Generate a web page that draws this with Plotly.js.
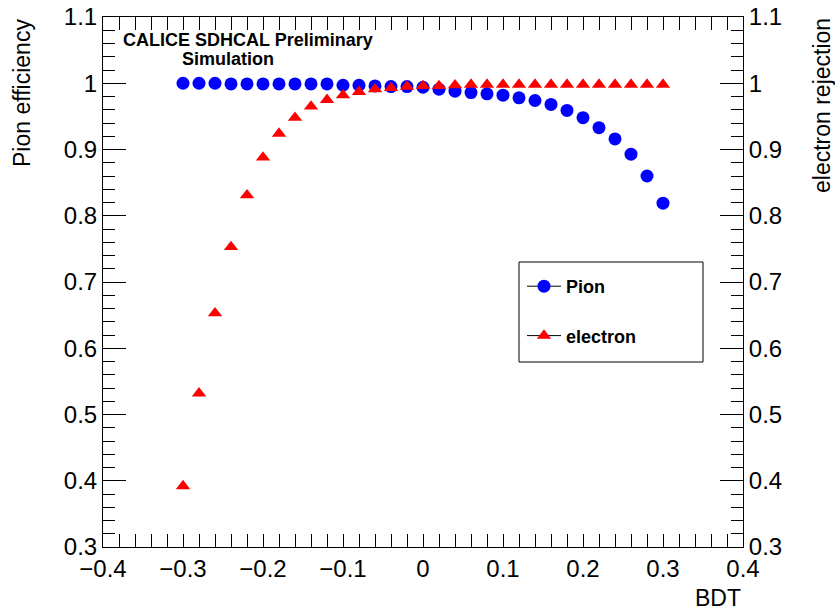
<!DOCTYPE html>
<html>
<head>
<meta charset="utf-8">
<script src="https://cdn.plot.ly/plotly-3.0.1.min.js"></script>
<style>
  html, body { margin: 0; padding: 0; background: #fff; }
  #plot { width: 835px; height: 610px; }
</style>
</head>
<body>
<div id="plot"></div>
<script>
// BDT cut values
const bdtCut = [-0.30, -0.28, -0.26, -0.24, -0.22, -0.20, -0.18, -0.16, -0.14, -0.12,
                -0.10, -0.08, -0.06, -0.04, -0.02, 0.00, 0.02, 0.04, 0.06, 0.08,
                0.10, 0.12, 0.14, 0.16, 0.18, 0.20, 0.22, 0.24, 0.26, 0.28, 0.30];

// Pion selection efficiency at each cut
const pionEfficiency = [1.000, 1.000, 1.000, 0.999, 0.999, 0.999, 0.999, 0.999, 0.999, 0.999,
                        0.997, 0.997, 0.996, 0.995, 0.995, 0.994, 0.991, 0.988, 0.986, 0.984,
                        0.982, 0.978, 0.974, 0.968, 0.959, 0.948, 0.933, 0.916, 0.893, 0.860, 0.819];

// Electron rejection at each cut
const electronRejection = [0.392, 0.532, 0.653, 0.753, 0.831, 0.888, 0.924, 0.948, 0.965, 0.975,
                           0.982, 0.987, 0.991, 0.993, 0.995, 0.996, 0.996, 0.997, 0.998, 0.998,
                           0.998, 0.998, 0.998, 0.998, 0.998, 0.998, 0.998, 0.998, 0.998, 0.998, 0.998];

const seriesNames = ["Pion", "electron"];
const axisRange = [0.3, 1.1];
const bdtRange = [-0.4, 0.4];

const FONT = "Liberation Sans, Arial, Helvetica, sans-serif";
const BLUE = "#0000ff";
const RED = "#ff0000";

const traces = [
  {
    x: bdtCut, y: pionEfficiency, type: "scatter", mode: "markers",
    marker: { symbol: "circle", size: 13, color: BLUE },
    showlegend: false, yaxis: "y"
  },
  {
    x: bdtCut, y: electronRejection, type: "scatter", mode: "markers",
    marker: { symbol: "triangle-up", size: 12.5, color: RED },
    showlegend: false, yaxis: "y2"
  },
  // legend entries (line + marker style)
  {
    x: [null], y: [null], type: "scatter", mode: "lines+markers", name: seriesNames[0],
    line: { color: "#000", width: 1 }, marker: { symbol: "circle", size: 13, color: BLUE },
    legendgroup: "a", yaxis: "y"
  },
  {
    x: [null], y: [null], type: "scatter", mode: "lines+markers", name: seriesNames[1],
    line: { color: "#000", width: 1 }, marker: { symbol: "triangle-up", size: 12.5, color: RED },
    legendgroup: "b", yaxis: "y2"
  }
];

function yAxis(side) {
  return {
    range: axisRange, tickmode: "linear", tick0: 0.3, dtick: 0.1,
    ticks: "inside", ticklen: 23, tickwidth: 1, tickcolor: "#000",
    minor: { dtick: 0.02, ticks: "inside", ticklen: 12, tickwidth: 1, tickcolor: "#000", showgrid: false },
    showline: true, linecolor: "#000", linewidth: 1,
    showgrid: false, zeroline: false, side: side, fixedrange: true,
    tickfont: { family: FONT, size: 24, color: "#000" }
  };
}

const y2 = yAxis("right");
y2.overlaying = "y";

const layout = {
  width: 835, height: 610,
  margin: { l: 103, r: 92, t: 17, b: 63, pad: 0 },
  paper_bgcolor: "#fff", plot_bgcolor: "#fff",
  font: { family: FONT, color: "#000" },
  xaxis: {
    range: bdtRange, tickmode: "linear", tick0: -0.4, dtick: 0.1,
    ticks: "inside", ticklen: 13, tickwidth: 1, tickcolor: "#000",
    minor: { dtick: 0.02, ticks: "inside", ticklen: 7, tickwidth: 1, tickcolor: "#000", showgrid: false },
    showline: true, linecolor: "#000", linewidth: 1, mirror: "allticks",
    showgrid: false, zeroline: false, fixedrange: true,
    tickfont: { family: FONT, size: 24, color: "#000" }
  },
  yaxis: yAxis("left"),
  yaxis2: y2,
  showlegend: true,
  legend: {
    x: (522 - 103) / 640, y: (547 - 268) / 530, xanchor: "left", yanchor: "top",
    bgcolor: "rgba(0,0,0,0)", borderwidth: 0, itemwidth: 34,
    traceorder: "grouped", tracegroupgap: 23,
    font: { family: FONT, size: 18, color: "#000", weight: "bold" }
  },
  shapes: [
    {
      type: "rect", xref: "paper", yref: "paper",
      x0: (519 - 103) / 640, x1: (703 - 103) / 640,
      y0: (547 - 362) / 530, y1: (547 - 262) / 530,
      line: { color: "#000", width: 1 }, fillcolor: "rgba(0,0,0,0)"
    }
  ],
  annotations: [
    {
      text: "<b>CALICE SDHCAL Preliminary</b>", xref: "paper", yref: "paper",
      x: (121 - 103) / 640, y: (547 - 40) / 530, xanchor: "left", yanchor: "middle",
      showarrow: false, font: { family: FONT, size: 18, color: "#000" }
    },
    {
      text: "<b>Simulation</b>", xref: "paper", yref: "paper",
      x: (180 - 103) / 640, y: (547 - 58.5) / 530, xanchor: "left", yanchor: "middle",
      showarrow: false, font: { family: FONT, size: 18, color: "#000" }
    },
    {
      text: "BDT", xref: "paper", yref: "paper",
      x: 1.0, y: (547 - 598) / 530, xanchor: "right", yanchor: "middle",
      showarrow: false, font: { family: FONT, size: 23, color: "#000" }
    },
    {
      text: "Pion efficiency", xref: "paper", yref: "paper", textangle: -90,
      x: (22 - 103) / 640, y: (547 - 93) / 530, xanchor: "center", yanchor: "middle",
      showarrow: false, font: { family: FONT, size: 23, color: "#000" }
    },
    {
      text: "electron rejection", xref: "paper", yref: "paper", textangle: -90,
      x: (822 - 103) / 640, y: (547 - 106) / 530, xanchor: "center", yanchor: "middle",
      showarrow: false, font: { family: FONT, size: 23, color: "#000" }
    }
  ]
};

Plotly.newPlot("plot", traces, layout, { staticPlot: true, displayModeBar: false });
</script>
</body>
</html>
